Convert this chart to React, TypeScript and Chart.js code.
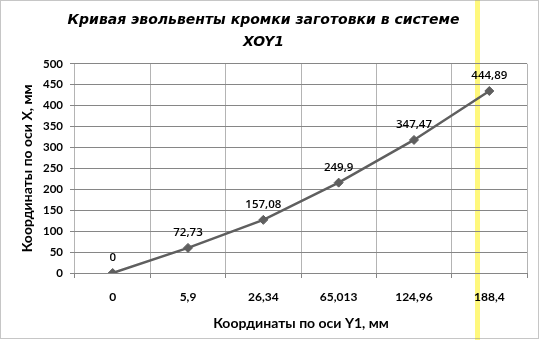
import React, { useEffect, useRef } from "react";
import { Chart, registerables } from "chart.js";

Chart.register(...registerables);

const categories = ["0", "5,9", "26,34", "65,013", "124,96", "188,4"];
const xCoordValues = [0, 60, 127, 216, 318, 435];
const pointLabels = ["0", "72,73", "157,08", "249,9", "347,47", "444,89"];
const titleLines = ["Кривая эвольвенты кромки заготовки в системе", "XOY1"];
const xAxisTitle = "Координаты по оси Y1, мм";
const yAxisTitle = "Координаты по оси X, мм";
const yMin = 0;
const yMax = 500;
const yStep = 50;

const W = 540;
const H = 340;

const backgroundPlugin = {
  id: "bgAndBand",
  beforeDraw(chart: any) {
    const ctx = chart.ctx;
    ctx.save();
    ctx.fillStyle = "#ffffff";
    ctx.fillRect(0, 0, W, H);
    ctx.fillStyle = "#fff87c";
    ctx.fillRect(475, 0, 5, H);
    ctx.restore();
  },
  afterDraw(chart: any) {
    const ctx = chart.ctx;
    ctx.save();
    ctx.strokeStyle = "#8c8c8c";
    ctx.lineWidth = 1;
    ctx.setLineDash([1, 1]);
    ctx.strokeRect(0.5, 0.5, W - 2, H - 2);
    ctx.restore();
  },
};

const labelPlugin = {
  id: "pointLabels",
  afterDatasetsDraw(chart: any) {
    const ctx = chart.ctx;
    const meta = chart.getDatasetMeta(0);
    ctx.save();
    ctx.font = "600 11.5px 'Open Sans'";
    ctx.fillStyle = "#000000";
    ctx.textAlign = "center";
    ctx.textBaseline = "middle";
    meta.data.forEach((pt: any, i: number) => {
      ctx.fillText(pointLabels[i], pt.x, pt.y - 15);
    });
    ctx.restore();
  },
};

export default function App() {
  const ref = useRef<HTMLCanvasElement | null>(null);
  useEffect(() => {
    if (!ref.current) return;
    const chart = new Chart(ref.current, {
      type: "line",
      data: {
        labels: categories,
        datasets: [
          {
            data: xCoordValues,
            borderColor: "#5f5f5f",
            backgroundColor: "#5f5f5f",
            borderWidth: 2.5,
            pointStyle: "rectRot",
            pointRadius: 4.5,
            pointBorderWidth: 1,
            tension: 0,
          },
        ],
      },
      options: {
        responsive: false,
        animation: false,
        devicePixelRatio: 1,
        layout: { padding: { left: 0, right: 13, top: 0, bottom: 0 } },
        plugins: {
          legend: { display: false },
          tooltip: { enabled: false },
          title: {
            display: true,
            text: titleLines,
            color: "#000000",
            font: { family: "'DejaVu Sans'", size: 14, weight: "bold", style: "italic", lineHeight: 1.6 },
            padding: { top: 9, bottom: 10 },
          },
        },
        scales: {
          x: {
            type: "category",
            offset: true,
            grid: {
              offset: true,
              color: "#b4b4b4",
              tickColor: "#868686",
              tickLength: 5,
            },
            border: { color: "#868686", width: 1 },
            ticks: {
              color: "#000000",
              font: { family: "Lato", size: 12, weight: "bold" },
              padding: 12,
              maxRotation: 0,
              autoSkip: false,
            },
            title: {
              display: true,
              text: xAxisTitle,
              color: "#000000",
              font: { family: "Lato", size: 14, weight: "bold" },
              padding: { top: 0, bottom: 8 },
            },
            afterFit(scale: any) {
              scale.height = 67;
            },
          },
          y: {
            min: yMin,
            max: yMax,
            grid: {
              color: "#868686",
              tickLength: 5,
            },
            border: { display: false },
            ticks: {
              stepSize: yStep,
              color: "#000000",
              font: { family: "Lato", size: 11.5, weight: "bold" },
              padding: 7,
            },
            title: {
              display: true,
              text: yAxisTitle,
              color: "#000000",
              font: { family: "Lato", size: 14, weight: "bold" },
              padding: { top: 19, bottom: 0 },
            },
            afterFit(scale: any) {
              scale.width = 75;
            },
          },
        },
      },
      plugins: [backgroundPlugin, labelPlugin],
    } as any);
    return () => chart.destroy();
  }, []);
  return (
    <div style={{ position: "fixed", left: 0, top: 0, width: W, height: H, background: "#fff" }}>
      <canvas ref={ref} width={W} height={H} style={{ display: "block", width: W, height: H }} />
    </div>
  );
}
